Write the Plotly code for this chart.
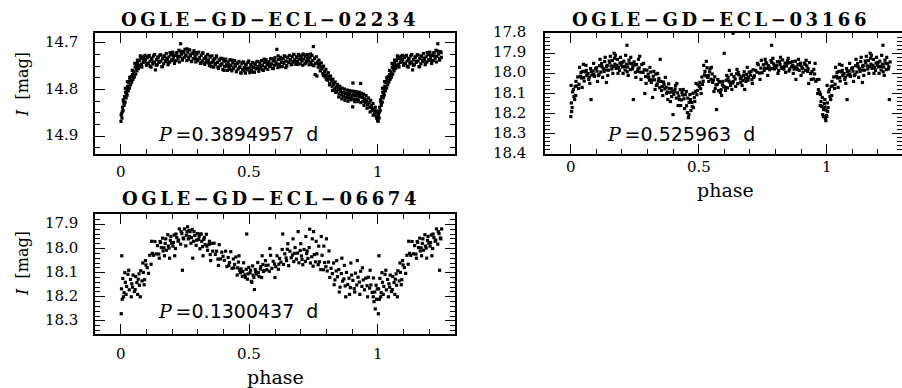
import plotly.graph_objects as go

# ---------------- data ----------------
titles = ["OGLE−GD−ECL−02234", "OGLE−GD−ECL−03166", "OGLE−GD−ECL−06674"]
periods = ["0.3894957", "0.525963", "0.1300437"]
x_tick_vals = [0, 0.5, 1]
y_ticks1 = [14.7, 14.8, 14.9]
y_ticks2 = [17.8, 17.9, 18.0, 18.1, 18.2, 18.3, 18.4]
y_ticks3 = [17.9, 18.0, 18.1, 18.2, 18.3]

# OGLE-GD-ECL-02234
phase1 = [
 0.001,0.003,0.005,0.007,0.009,0.011,0.013,0.015,0.017,0.019,
 0.021,0.023,0.025,0.027,0.029,0.031,0.034,0.036,0.038,0.041,
 0.043,0.046,0.048,0.051,0.053,0.056,0.058,0.061,0.063,0.066,
 0.069,0.072,0.075,0.078,0.081,0.084,0.087,0.090,0.094,0.097,
 0.100,0.104,0.107,0.111,0.114,0.118,0.121,0.125,0.128,0.132,
 0.135,0.139,0.142,0.146,0.149,0.153,0.156,0.160,0.163,0.167,
 0.170,0.174,0.177,0.181,0.184,0.188,0.191,0.195,0.198,0.202,
 0.205,0.209,0.212,0.216,0.219,0.223,0.226,0.230,0.233,0.236,
 0.240,0.243,0.247,0.250,0.254,0.257,0.261,0.264,0.268,0.271,
 0.275,0.278,0.282,0.285,0.289,0.292,0.296,0.299,0.303,0.306,
 0.310,0.313,0.317,0.320,0.324,0.327,0.331,0.334,0.338,0.341,
 0.345,0.348,0.352,0.355,0.359,0.362,0.366,0.369,0.373,0.376,
 0.380,0.383,0.387,0.390,0.394,0.397,0.401,0.404,0.408,0.411,
 0.415,0.418,0.422,0.425,0.429,0.432,0.436,0.439,0.443,0.446,
 0.450,0.453,0.457,0.460,0.464,0.467,0.471,0.474,0.478,0.481,
 0.485,0.488,0.492,0.495,0.499,0.502,0.506,0.509,0.513,0.516,
 0.520,0.523,0.527,0.530,0.534,0.537,0.541,0.544,0.548,0.551,
 0.555,0.558,0.562,0.565,0.569,0.572,0.576,0.579,0.583,0.586,
 0.590,0.593,0.597,0.600,0.604,0.607,0.611,0.614,0.618,0.621,
 0.625,0.628,0.632,0.635,0.639,0.642,0.646,0.649,0.653,0.656,
 0.660,0.663,0.667,0.670,0.674,0.677,0.681,0.684,0.688,0.691,
 0.695,0.698,0.702,0.705,0.709,0.712,0.716,0.719,0.723,0.726,
 0.730,0.733,0.737,0.740,0.744,0.747,0.749,0.751,0.754,0.756,
 0.758,0.761,0.763,0.765,0.768,0.771,0.774,0.777,0.780,0.783,
 0.786,0.789,0.792,0.795,0.798,0.801,0.804,0.807,0.810,0.813,
 0.816,0.819,0.822,0.825,0.828,0.831,0.834,0.837,0.840,0.843,
 0.846,0.849,0.852,0.855,0.858,0.861,0.864,0.867,0.870,0.873,
 0.876,0.879,0.882,0.885,0.888,0.891,0.894,0.897,0.900,0.902,
 0.903,0.906,0.909,0.912,0.915,0.918,0.921,0.924,0.927,0.930,
 0.933,0.936,0.939,0.942,0.945,0.948,0.951,0.954,0.957,0.960,
 0.963,0.966,0.969,0.972,0.975,0.978,0.981,0.984,0.987,0.990,
 0.993,0.996,0.998,0.999,
 # second pass over the light curve
 0.102,0.108,0.114,0.120,0.126,0.132,0.138,0.144,0.150,0.156,
 0.162,0.168,0.174,0.180,0.186,0.192,0.198,0.204,0.210,0.216,
 0.222,0.228,0.234,0.240,0.246,0.252,0.258,0.264,0.270,0.276,
 0.282,0.288,0.294,0.300,0.306,0.312,0.318,0.324,0.330,0.336,
 0.342,0.348,0.354,0.360,0.366,0.372,0.378,0.384,0.390,0.396,
 0.402,0.408,0.414,0.420,0.426,0.432,0.438,0.444,0.450,0.456,
 0.462,0.468,0.474,0.480,0.486,0.492,0.498,0.504,0.510,0.516,
 0.522,0.528,0.534,0.540,0.546,0.552,0.558,0.564,0.570,0.576,
 0.582,0.588,0.594,0.600,0.606,0.612,0.618,0.624,0.630,0.636,
 0.642,0.648,0.654,0.660,0.666,0.672,0.678,0.684,0.690,0.696,
 0.702,0.708,0.714,0.720,0.726,0.732,0.738,0.744,
 0.002,0.006,0.010,0.014,0.018,0.022,0.026,0.030,0.035,0.040,
 0.045,0.050,0.055,0.060,0.065,0.070,0.076,0.082,0.088,0.095,
 0.770,0.776,0.782,0.788,0.794,0.800,0.806,0.812,0.818,0.824,
 0.830,0.836,0.842,0.848,0.854,0.860,0.866,0.872,0.878,0.884,
 0.890,0.896,0.904,0.910,0.916,0.922,0.928,0.934,0.940,0.946,
 0.952,0.958,0.964,0.970,0.976,0.982,0.988,0.994]
mag1 = [
 14.868,14.852,14.861,14.838,14.845,14.826,14.834,14.815,14.827,14.806,
 14.818,14.799,14.812,14.793,14.803,14.785,14.797,14.779,14.790,14.772,
 14.784,14.768,14.778,14.762,14.773,14.752,14.767,14.748,14.760,14.742,
 14.755,14.738,14.750,14.733,14.746,14.731,14.742,14.729,14.740,14.735,
 14.748,14.731,14.744,14.727,14.739,14.752,14.733,14.745,14.728,14.741,
 14.758,14.736,14.747,14.730,14.742,14.726,14.739,14.751,14.734,14.745,
 14.728,14.740,14.723,14.736,14.747,14.730,14.741,14.725,14.737,14.720,
 14.733,14.744,14.727,14.738,14.721,14.733,14.716,14.729,14.702,14.724,
 14.737,14.719,14.731,14.714,14.727,14.738,14.720,14.732,14.715,14.728,
 14.740,14.722,14.734,14.717,14.729,14.741,14.724,14.736,14.720,14.732,
 14.744,14.727,14.739,14.722,14.734,14.746,14.729,14.741,14.725,14.737,
 14.749,14.731,14.743,14.728,14.740,14.752,14.734,14.746,14.730,14.742,
 14.755,14.737,14.749,14.733,14.745,14.757,14.739,14.751,14.735,14.747,
 14.759,14.741,14.753,14.736,14.748,14.760,14.742,14.754,14.738,14.750,
 14.762,14.744,14.756,14.740,14.752,14.764,14.745,14.757,14.741,14.753,
 14.765,14.746,14.758,14.742,14.754,14.764,14.747,14.758,14.742,14.753,
 14.763,14.746,14.756,14.740,14.751,14.761,14.744,14.754,14.738,14.749,
 14.759,14.742,14.752,14.736,14.747,14.757,14.740,14.750,14.734,14.745,
 14.755,14.738,14.748,14.732,14.743,14.714,14.753,14.736,14.746,14.731,
 14.741,14.751,14.734,14.744,14.729,14.739,14.749,14.732,14.742,14.727,
 14.737,14.747,14.730,14.740,14.725,14.736,14.746,14.730,14.740,14.725,
 14.735,14.745,14.729,14.739,14.724,14.735,14.745,14.729,14.739,14.725,
 14.736,14.747,14.731,14.742,14.727,14.738,14.708,14.749,14.733,14.768,
 14.744,14.730,14.771,14.741,14.752,14.737,14.748,14.759,14.743,14.755,
 14.766,14.750,14.762,14.773,14.757,14.769,14.780,14.764,14.776,14.787,
 14.771,14.783,14.793,14.778,14.789,14.799,14.784,14.795,14.804,14.789,
 14.800,14.809,14.793,14.804,14.812,14.797,14.807,14.815,14.799,14.809,
 14.817,14.801,14.811,14.818,14.802,14.812,14.819,14.803,14.813,14.837,
 14.786,14.820,14.804,14.813,14.821,14.805,14.814,14.822,14.806,14.815,
 14.787,14.808,14.817,14.825,14.810,14.820,14.828,14.813,14.824,14.833,
 14.818,14.829,14.838,14.823,14.835,14.845,14.830,14.842,14.852,14.838,
 14.850,14.862,14.846,14.866,
 # second pass over the light curve
 14.744,14.729,14.750,14.735,14.742,14.725,14.748,14.732,14.740,14.726,
 14.751,14.729,14.738,14.733,14.743,14.721,14.737,14.727,14.740,14.722,
 14.729,14.741,14.718,14.734,14.721,14.728,14.713,14.735,14.726,14.740,
 14.723,14.734,14.721,14.738,14.733,14.743,14.722,14.743,14.732,14.738,
 14.743,14.729,14.751,14.737,14.744,14.728,14.752,14.737,14.746,14.734,
 14.759,14.739,14.750,14.747,14.757,14.737,14.755,14.746,14.761,14.743,
 14.752,14.765,14.742,14.760,14.748,14.755,14.739,14.761,14.750,14.763,
 14.744,14.754,14.740,14.755,14.748,14.758,14.735,14.754,14.741,14.746,
 14.750,14.734,14.755,14.739,14.746,14.728,14.751,14.734,14.742,14.728,
 14.753,14.731,14.741,14.736,14.746,14.725,14.741,14.732,14.746,14.727,
 14.735,14.748,14.726,14.743,14.732,14.739,14.724,14.747,
 14.855,14.848,14.822,14.829,14.797,14.808,14.783,14.795,14.774,14.781,
 14.759,14.771,14.744,14.755,14.737,14.748,14.728,14.752,14.735,14.727,
 14.745,14.760,14.752,14.770,14.762,14.778,14.772,14.790,14.778,14.802,
 14.786,14.806,14.796,14.816,14.800,14.820,14.806,14.823,14.808,14.825,
 14.807,14.822,14.810,14.826,14.811,14.826,14.812,14.828,14.816,14.834,
 14.822,14.840,14.828,14.848,14.838,14.855,14.845,14.858]

# common phase grid of the two fainter stars (main band)
grid_phase = [
 0.003,0.008,0.013,0.018,0.023,0.028,0.033,0.038,0.043,0.048,
 0.053,0.058,0.063,0.068,0.073,0.078,0.083,0.088,0.093,0.098,
 0.103,0.108,0.113,0.118,0.123,0.128,0.133,0.138,0.143,0.148,
 0.153,0.158,0.163,0.168,0.173,0.178,0.183,0.188,0.193,0.198,
 0.203,0.208,0.213,0.218,0.223,0.228,0.233,0.238,0.243,0.248,
 0.253,0.258,0.263,0.268,0.273,0.278,0.283,0.288,0.293,0.298,
 0.303,0.308,0.313,0.318,0.323,0.328,0.333,0.338,0.343,0.348,
 0.353,0.358,0.363,0.368,0.373,0.378,0.383,0.388,0.393,0.398,
 0.403,0.408,0.413,0.418,0.423,0.428,0.433,0.438,0.443,0.448,
 0.453,0.458,0.463,0.468,0.473,0.478,0.483,0.488,0.493,0.498,
 0.503,0.508,0.513,0.518,0.523,0.528,0.533,0.538,0.543,0.548,
 0.553,0.558,0.563,0.568,0.573,0.578,0.583,0.588,0.593,0.598,
 0.603,0.608,0.613,0.618,0.623,0.628,0.633,0.638,0.643,0.648,
 0.653,0.658,0.663,0.668,0.673,0.678,0.683,0.688,0.693,0.698,
 0.703,0.708,0.713,0.718,0.723,0.728,0.733,0.738,0.743,0.748,
 0.753,0.758,0.763,0.768,0.773,0.778,0.783,0.788,0.793,0.798,
 0.803,0.808,0.813,0.818,0.823,0.828,0.833,0.838,0.843,0.848,
 0.853,0.858,0.863,0.868,0.873,0.878,0.883,0.888,0.893,0.898,
 0.903,0.908,0.913,0.918,0.923,0.928,0.933,0.938,0.943,0.948,
 0.953,0.958,0.963,0.968,0.973,0.978,0.983,0.988,0.993,0.998]

# OGLE-GD-ECL-03166
mag2_grid = [
 18.147,18.092,18.115,18.065,18.063,18.018,18.054,18.014,18.023,17.990,
 18.038,17.993,18.011,18.001,18.019,17.976,18.008,17.988,18.015,17.976,
 17.989,18.011,17.962,17.993,17.967,17.977,17.941,17.983,17.960,17.984,
 17.945,17.962,17.936,17.966,17.954,17.975,17.930,17.970,17.948,17.957,
 17.968,17.939,17.983,17.954,17.968,17.934,17.981,17.952,17.967,17.943,
 17.995,17.956,17.978,17.973,17.994,17.956,17.995,17.982,18.016,17.984,
 18.004,18.034,17.993,18.032,18.014,18.032,18.004,18.054,18.039,18.071,
 18.040,18.065,18.043,18.077,18.069,18.093,18.052,18.095,18.076,18.089,
 18.104,18.077,18.123,18.097,18.113,18.081,18.132,18.107,18.126,18.106,
 18.161,18.123,18.144,18.131,18.145,18.099,18.120,18.090,18.106,18.056,
 18.064,18.076,18.018,18.039,18.007,18.012,17.972,18.011,17.992,18.029,
 18.003,18.033,18.017,18.057,18.055,18.086,18.043,18.081,18.057,18.064,
 18.069,18.034,18.072,18.037,18.045,18.005,18.048,18.016,18.028,18.002,
 18.051,18.008,18.027,18.018,18.035,17.992,18.024,18.005,18.033,17.994,
 18.009,18.031,17.982,18.012,17.985,17.994,17.957,17.998,17.974,17.997,
 17.957,17.974,17.946,17.975,17.962,17.982,17.936,17.975,17.953,17.962,
 17.972,17.942,17.985,17.955,17.968,17.933,17.979,17.949,17.963,17.938,
 17.988,17.947,17.967,17.960,17.979,17.939,17.973,17.956,17.985,17.949,
 17.967,17.994,17.949,17.984,17.963,17.977,17.946,18.001,17.991,18.028,
 18.003,18.039,18.031,18.081,18.094,18.140,18.120,18.180,18.168,18.182]
phase2_extra = [
 0.985,0.995,0.999,0.991,0.976,0.981,0.001,0.004,0.006,0.011,0.016,0.002,
 0.445,0.456,0.462,0.470,0.452,0.466,0.430,
 0.220,0.600,0.635,0.785,0.320,0.245,0.400,0.080,0.570,0.530,0.350,0.290,
 0.880,0.050,0.140,0.170,0.270,0.620,0.680,0.745,0.930,0.955,0.390,0.415,
 0.101,0.111,0.121,0.131,0.141,0.151,0.161,0.171,0.181,0.191,0.201,0.211,
 0.221,0.231,0.241,0.251,0.261,
 0.756,0.766,0.776,0.786,0.796,0.806,0.816,0.826,0.836,0.846,0.856,0.866,
 0.876,0.886,0.896,0.906,0.916,0.926,
 0.021,0.031,0.041,0.051,0.061,0.071,0.081,0.091,
 0.505,0.515,0.525,0.535,0.545,0.555,0.565,0.575,0.585,0.595,0.605,0.615,
 0.625,0.635,0.645,0.655,0.665,0.675,0.685,0.695,0.705,0.715,
 0.305,0.315,0.325,0.335,0.345,0.355,0.365,0.375,0.385,0.395,0.405,0.425,
 0.435,0.475,0.485,0.495,
 0.020,0.035,0.045,0.060,0.075,0.090,0.105,0.115,0.125,0.135,0.145,0.155,
 0.165,0.175,0.185,0.195,0.205,0.215,0.225,0.235,0.255,0.265,0.275,0.285,
 0.295,0.310,0.330,0.340,0.360,0.370,0.380,0.410,0.420,0.440,0.460,0.480,
 0.490,0.510,0.520,0.540,0.550,0.560,0.580,0.590,0.610,0.630,0.650,0.670,
 0.690,0.710,0.730,0.740,0.760,0.770,0.790,0.810,0.820,0.840,0.850,0.870,
 0.890,0.900,0.920,0.940,0.950,0.965,0.970,0.975,0.988,0.993,0.997]
mag2_extra = [
 18.205,18.225,18.210,18.150,18.105,18.165,18.215,18.190,18.170,18.080,18.130,18.060,
 18.175,18.195,18.205,18.185,18.090,18.105,18.160,
 17.860,17.900,17.800,17.860,18.120,18.130,18.205,18.130,18.180,17.940,17.930,18.100,
 18.030,17.955,18.045,17.900,17.915,17.985,18.080,17.935,18.050,17.950,18.140,18.050,
 17.972,18.005,17.951,17.990,17.965,17.938,17.978,17.925,17.960,17.985,17.945,17.965,
 17.992,17.950,17.978,17.958,17.990,
 17.985,17.952,17.970,17.945,17.978,17.960,17.940,17.975,17.965,17.950,17.978,17.942,
 17.968,17.980,17.958,17.975,17.955,17.990,
 18.040,18.075,17.995,18.020,17.985,18.030,17.990,18.005,
 18.045,18.055,17.990,18.020,17.975,18.045,18.075,18.030,18.095,18.040,18.085,18.020,
 18.060,18.040,18.065,17.995,18.045,18.010,18.040,18.020,17.990,18.020,
 18.020,18.045,17.990,18.060,18.025,18.085,18.055,18.100,18.075,18.115,18.090,18.130,
 18.095,18.165,18.140,18.085,
 18.110,17.970,18.070,17.960,18.050,17.950,18.040,17.930,18.020,17.920,18.010,17.915,
 18.000,17.910,18.000,17.920,18.000,17.910,18.010,17.920,18.020,17.930,18.030,17.950,
 18.050,17.970,18.080,18.000,18.110,18.020,18.130,18.060,18.160,18.080,18.220,18.170,
 18.050,18.100,17.960,18.040,17.970,18.090,18.040,18.110,18.010,18.080,17.980,18.060,
 17.970,18.050,17.950,18.030,17.930,18.010,17.925,18.000,17.920,17.995,17.925,18.000,
 17.930,18.010,17.935,18.030,17.980,18.100,18.030,18.160,18.215,18.130,18.235]

# OGLE-GD-ECL-06674
mag3_grid = [
 18.167,18.124,18.183,18.140,18.157,18.107,18.171,18.128,18.146,18.110,
 18.178,18.116,18.141,18.127,18.152,18.092,18.134,18.099,18.129,18.068,
 18.079,18.103,18.028,18.065,18.020,18.028,17.971,18.022,17.988,18.023,
 17.971,17.996,17.957,17.997,17.979,18.007,17.943,17.998,17.966,17.978,
 17.990,17.944,18.000,17.955,17.970,17.919,17.982,17.938,17.956,17.919,
 17.989,17.931,17.960,17.950,17.978,17.921,17.970,17.946,17.987,17.938,
 17.963,18.001,17.940,17.992,17.962,17.984,17.941,18.007,17.983,18.025,
 17.979,18.011,17.978,18.024,18.011,18.044,17.984,18.043,18.015,18.032,
 18.049,18.011,18.075,18.037,18.058,18.013,18.082,18.043,18.066,18.035,
 18.110,18.056,18.090,18.084,18.115,18.059,18.109,18.086,18.127,18.078,
 18.101,18.136,18.072,18.120,18.087,18.106,18.058,18.116,18.085,18.120,
 18.066,18.091,18.050,18.088,18.069,18.094,18.028,18.082,18.053,18.064,
 18.075,18.030,18.086,18.041,18.056,18.004,18.066,18.022,18.039,18.003,
 18.071,18.011,18.038,18.027,18.054,17.996,18.044,18.019,18.059,18.008,
 18.031,18.067,18.004,18.053,18.021,18.041,17.996,18.060,18.034,18.073,
 18.025,18.055,18.022,18.067,18.055,18.087,18.028,18.088,18.058,18.075,
 18.093,18.056,18.120,18.082,18.104,18.060,18.130,18.093,18.117,18.087,
 18.160,18.104,18.135,18.126,18.155,18.099,18.149,18.123,18.162,18.110,
 18.132,18.166,18.102,18.151,18.119,18.139,18.094,18.157,18.130,18.171,
 18.123,18.154,18.119,18.164,18.151,18.182,18.122,18.180,18.152,18.167]
phase3_extra = [
 0.002,0.004,0.006,0.011,0.016,0.021,0.031,0.041,0.046,0.056,0.066,0.071,
 0.076,0.086,0.091,0.096,
 0.120,0.150,0.170,0.190,0.210,0.240,0.260,0.270,0.310,0.280,0.320,0.350,
 0.380,0.420,0.440,0.460,0.490,0.520,0.510,0.550,0.580,0.600,
 0.630,0.650,0.670,0.690,0.700,0.720,0.735,0.745,0.750,0.760,0.770,0.780,
 0.790,0.800,0.810,
 0.840,0.860,0.870,0.895,0.920,0.940,0.960,0.970,0.985,0.990,0.995,0.982,
 0.930,0.910,0.890,0.875,0.850,0.830,
 0.615,0.645,0.675,0.705,0.725,
 0.155,0.165,0.175,0.185,0.195,0.205,0.215,0.225,0.235,0.245,0.255,0.265,
 0.275,0.285,0.295,0.305,0.315,0.325,0.335,0.345,
 0.455,0.465,0.475,0.485,0.495,0.505,0.515,0.525,0.535,0.545,0.555,0.565]
mag3_extra = [
 18.270,18.030,18.210,18.200,18.100,18.190,18.090,18.200,18.160,18.170,18.190,18.105,
 18.200,18.060,18.150,18.050,
 17.970,18.040,18.030,18.040,18.030,18.090,17.910,17.930,17.940,18.040,18.030,18.050,
 18.070,18.070,18.080,18.030,17.940,18.170,18.140,18.030,18.000,18.120,
 17.940,17.980,17.960,17.930,17.980,17.950,17.920,17.960,17.930,17.970,17.990,17.950,
 17.990,17.960,18.010,
 18.050,18.040,18.070,18.060,18.050,18.080,18.200,18.090,18.220,18.250,18.210,18.200,
 18.190,18.180,18.190,18.200,18.180,18.150,
 18.065,18.050,18.020,18.045,18.010,
 17.975,18.010,17.960,17.990,17.950,17.975,17.940,17.965,17.930,17.960,17.945,17.925,
 17.955,17.930,17.965,17.950,17.970,17.955,17.990,17.970,
 18.080,18.100,18.095,18.120,18.105,18.090,18.110,18.095,18.100,18.075,18.095,18.070]

assert len(phase1) == len(mag1)
assert len(grid_phase) == len(mag2_grid) == len(mag3_grid)
assert len(phase2_extra) == len(mag2_extra)
assert len(phase3_extra) == len(mag3_extra)

phase2 = grid_phase + phase2_extra
mag2 = mag2_grid + mag2_extra
phase3 = grid_phase + phase3_extra
mag3 = mag3_grid + mag3_extra


def folded(ph, mg, extra=0.25):
    """phase-folded light curve shown from 0 to 1.25 (first quarter repeated)"""
    xs = list(ph) + [p + 1 for p in ph if p < extra]
    ys = list(mg) + [m for p, m in zip(ph, mg) if p < extra]
    return xs, ys


# ---------------- figure ----------------
W, H = 902, 388
SERIF = "DejaVu Serif"

# panel boxes in pixels: (left, right, top, bottom)
boxes = [(95, 455, 33, 154), (545, 902, 33, 154), (95, 455, 214, 334)]
x_ranges = [[-0.1, 1.3], [-0.1, 1.2945], [-0.1, 1.3]]
y_ranges = [[14.938, 14.679], [18.401, 17.799], [18.354, 17.857]]
y_major = [y_ticks1, y_ticks2, y_ticks3]
y_minor_step = [0.025, 0.02, 0.02]
x_label_y = [172, 166.5, 354]      # centre of x tick labels
y_label_right = [80, 528, 80]      # right edge of y tick labels
MAJ, MIN = 10, 5                   # tick lengths in px

fig = go.Figure()
for i, (ph, mg) in enumerate([(phase1, mag1), (phase2, mag2), (phase3, mag3)]):
    xs, ys = folded(ph, mg)
    sfx = "" if i == 0 else str(i + 1)
    fig.add_trace(go.Scatter(
        x=xs, y=ys, mode="markers", xaxis="x" + sfx, yaxis="y" + sfx,
        marker=dict(symbol="square", size=3.2, color="black", line=dict(width=0)),
        showlegend=False, hoverinfo="skip"))

layout_axes = {}
annotations = []
for i, (l, r, t, b) in enumerate(boxes):
    sfx = "" if i == 0 else str(i + 1)
    xa, ya = "x" + sfx, "y" + sfx
    x0r, x1r = x_ranges[i]
    y0r, y1r = y_ranges[i]

    # minor tick positions: x every 0.1, y every minor step
    xt = [round(k * 0.1, 3) for k in range(-1, 14)]
    xt = [v for v in xt if x0r <= v <= x1r and all(abs(v - m) > 1e-9 for m in x_tick_vals)]
    ylo, yhi = min(y0r, y1r), max(y0r, y1r)
    yt = []
    k = -10
    while True:
        v = round(y_major[i][0] + k * y_minor_step[i], 4)
        k += 1
        if v > yhi:
            break
        if v >= ylo and all(abs(v - m) > 1e-9 for m in y_major[i]):
            yt.append(v)

    common = dict(showline=True, linecolor="black", linewidth=1.5, mirror="allticks",
                  ticks="inside", ticklen=MAJ, tickwidth=1, tickcolor="black",
                  showticklabels=False, showgrid=False, zeroline=False,
                  automargin=False, fixedrange=True)
    layout_axes["xaxis" + sfx] = dict(
        common, domain=[l / W, min(r / W, 1.0)], anchor=ya, range=x_ranges[i],
        tickmode="array", tickvals=x_tick_vals,
        minor=dict(tickmode="array", tickvals=xt, ticks="inside", ticklen=MIN,
                   tickwidth=1, tickcolor="black", showgrid=False))
    layout_axes["yaxis" + sfx] = dict(
        common, domain=[1 - b / H, 1 - t / H], anchor=xa, range=y_ranges[i],
        tickmode="array", tickvals=y_major[i],
        minor=dict(tickmode="array", tickvals=yt, ticks="inside", ticklen=MIN,
                   tickwidth=1, tickcolor="black", showgrid=False))

    # tick labels
    for v in x_tick_vals:
        annotations.append(dict(text="%g" % v, x=v, xref=xa, y=1 - x_label_y[i] / H,
                                yref="paper", xanchor="center", yanchor="middle",
                                showarrow=False,
                                font=dict(family=SERIF, size=15, color="black")))
    for v in y_major[i]:
        annotations.append(dict(text="%.1f" % v, x=y_label_right[i] / W, xref="paper",
                                y=v, yref=ya, xanchor="right", yanchor="middle", yshift=1,
                                showarrow=False,
                                font=dict(family=SERIF, size=15, color="black")))

fig.update_layout(template="none", width=W, height=H,
                  margin=dict(l=0, r=0, t=0, b=0, pad=0),
                  paper_bgcolor="white", plot_bgcolor="white", **layout_axes)

THIN = "\u2009"


def spaced(s):
    return THIN.join(list(s))


# titles
for t, (cx, cy) in zip(titles, [(268.5, 19), (719, 19), (269, 199)]):
    annotations.append(dict(text="<b>" + spaced(t) + "</b>", x=cx / W, y=1 - cy / H,
                            xref="paper", yref="paper", xanchor="center", yanchor="middle",
                            showarrow=False, font=dict(family=SERIF, size=18, color="black")))
# period labels
for p, (cx, cy) in zip(periods, [(238, 134), (681, 134), (238, 311)]):
    txt = ('<span style="font-family:DejaVu Serif"><i>P</i></span>' + THIN + "=" + p
           + "\u00a0\u00a0d")
    annotations.append(dict(text=txt, x=cx / W, y=1 - cy / H, xref="paper", yref="paper",
                            xanchor="center", yanchor="middle", showarrow=False,
                            font=dict(family="DejaVu Sans", size=19, color="black")))
# y axis titles
for cy in [85, 264]:
    annotations.append(dict(text="<i>I</i>\u00a0\u00a0[mag]", x=22 / W, y=1 - cy / H,
                            xref="paper", yref="paper", xanchor="center", yanchor="middle",
                            textangle=-90, showarrow=False,
                            font=dict(family=SERIF, size=16, color="black")))
# x axis titles
for cx, cy in [(725, 190), (275, 377)]:
    annotations.append(dict(text="phase", x=cx / W, y=1 - cy / H, xref="paper", yref="paper",
                            xanchor="center", yanchor="middle", showarrow=False,
                            font=dict(family=SERIF, size=19, color="black")))

fig.update_layout(annotations=annotations)
fig.write_html("out.html", config={"displayModeBar": False},
               post_script="document.body.style.margin='0px';document.body.style.padding='0px';")
